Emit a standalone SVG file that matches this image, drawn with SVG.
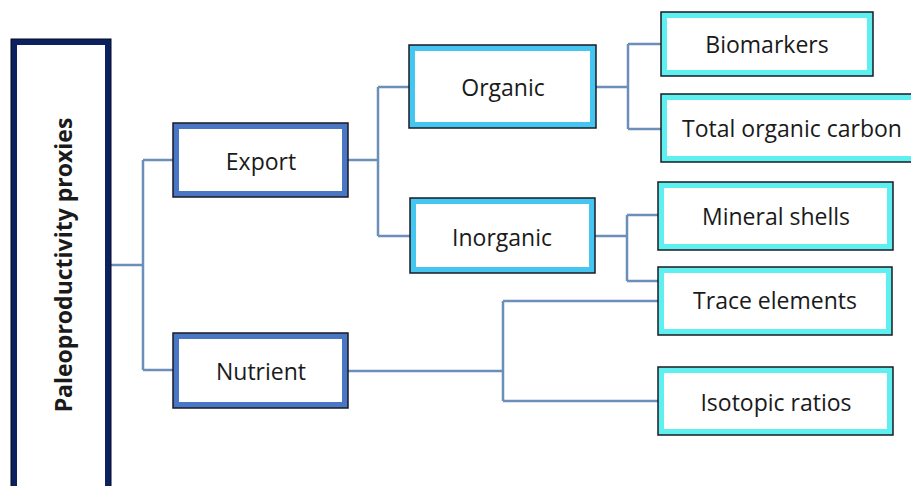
<svg xmlns="http://www.w3.org/2000/svg" width="911" height="486" viewBox="0 0 911 486">
<style>
.out{stroke:#1a1a22;stroke-width:1.5}
.l1{fill:#4a76c6}
.l2{fill:#45c6f0}
.l3{fill:#5ef0f0}
.in{fill:#ffffff}
.t{font-family:"Open Sans","Noto Sans",sans-serif;font-size:23px;fill:#1a1a1a;text-anchor:middle;dominant-baseline:central}
.c{fill:none;stroke:#6b8fb9;stroke-width:2.5}
</style>
<rect width="911" height="486" fill="#ffffff"/>
<g id="connectors">
<path class="c" d="M111 265H143M143 160V370M143 160H174M143 370H174"/>
<path class="c" d="M348 160H378M378 87V236M378 87H410M378 236H410"/>
<path class="c" d="M596 87H628M628 44V129M628 44H661M628 129H661"/>
<path class="c" d="M595 236H627M627 215V281M627 215H658M627 281H658"/>
<path class="c" d="M348 371H503M503 301V401M503 301H658M503 401H658"/>
</g>
<g id="root">
<rect x="11" y="39" width="100" height="460" fill="#0c2160" stroke="#050a20" stroke-width="1"/>
<rect x="17" y="45" width="88" height="460" fill="#ffffff"/>
<text x="63" y="265" transform="rotate(-90 63 265)" class="t" style="font-weight:bold;font-size:23px" fill="#000">Paleoproductivity proxies</text>
</g>
<g id="export">
<rect class="out l1" x="173" y="123" width="175" height="74"/>
<rect class="in" x="179" y="129" width="163" height="62"/>
<text class="t" x="261" y="161">Export</text>
</g>
<g id="nutrient">
<rect class="out l1" x="173" y="333" width="175" height="75"/>
<rect class="in" x="179" y="339" width="163" height="63"/>
<text class="t" x="261" y="371">Nutrient</text>
</g>
<g id="organic">
<rect class="out l2" x="409" y="45" width="187" height="83"/>
<rect class="in" x="415" y="51" width="175" height="71"/>
<text class="t" x="503" y="87">Organic</text>
</g>
<g id="inorganic">
<rect class="out l2" x="410" y="198" width="185" height="75"/>
<rect class="in" x="416" y="204" width="173" height="63"/>
<text class="t" x="502" y="237">Inorganic</text>
</g>
<g id="biomarkers">
<rect class="out l3" x="661" y="12" width="212" height="64"/>
<rect class="in" x="667" y="18" width="200" height="52"/>
<text class="t" x="767" y="44">Biomarkers</text>
</g>
<g id="toc">
<rect class="out l3" x="661" y="94" width="270" height="68"/>
<rect class="in" x="667" y="100" width="258" height="56"/>
<text class="t" x="792" y="128">Total organic carbon</text>
</g>
<g id="mineral">
<rect class="out l3" x="658" y="182" width="235" height="68"/>
<rect class="in" x="664" y="188" width="223" height="56"/>
<text class="t" x="776" y="216">Mineral shells</text>
</g>
<g id="trace">
<rect class="out l3" x="658" y="267" width="234" height="68"/>
<rect class="in" x="664" y="273" width="222" height="56"/>
<text class="t" x="775" y="300">Trace elements</text>
</g>
<g id="isotopic">
<rect class="out l3" x="658" y="367" width="235" height="68"/>
<rect class="in" x="664" y="373" width="223" height="56"/>
<text class="t" x="776" y="402">Isotopic ratios</text>
</g>
</svg>
